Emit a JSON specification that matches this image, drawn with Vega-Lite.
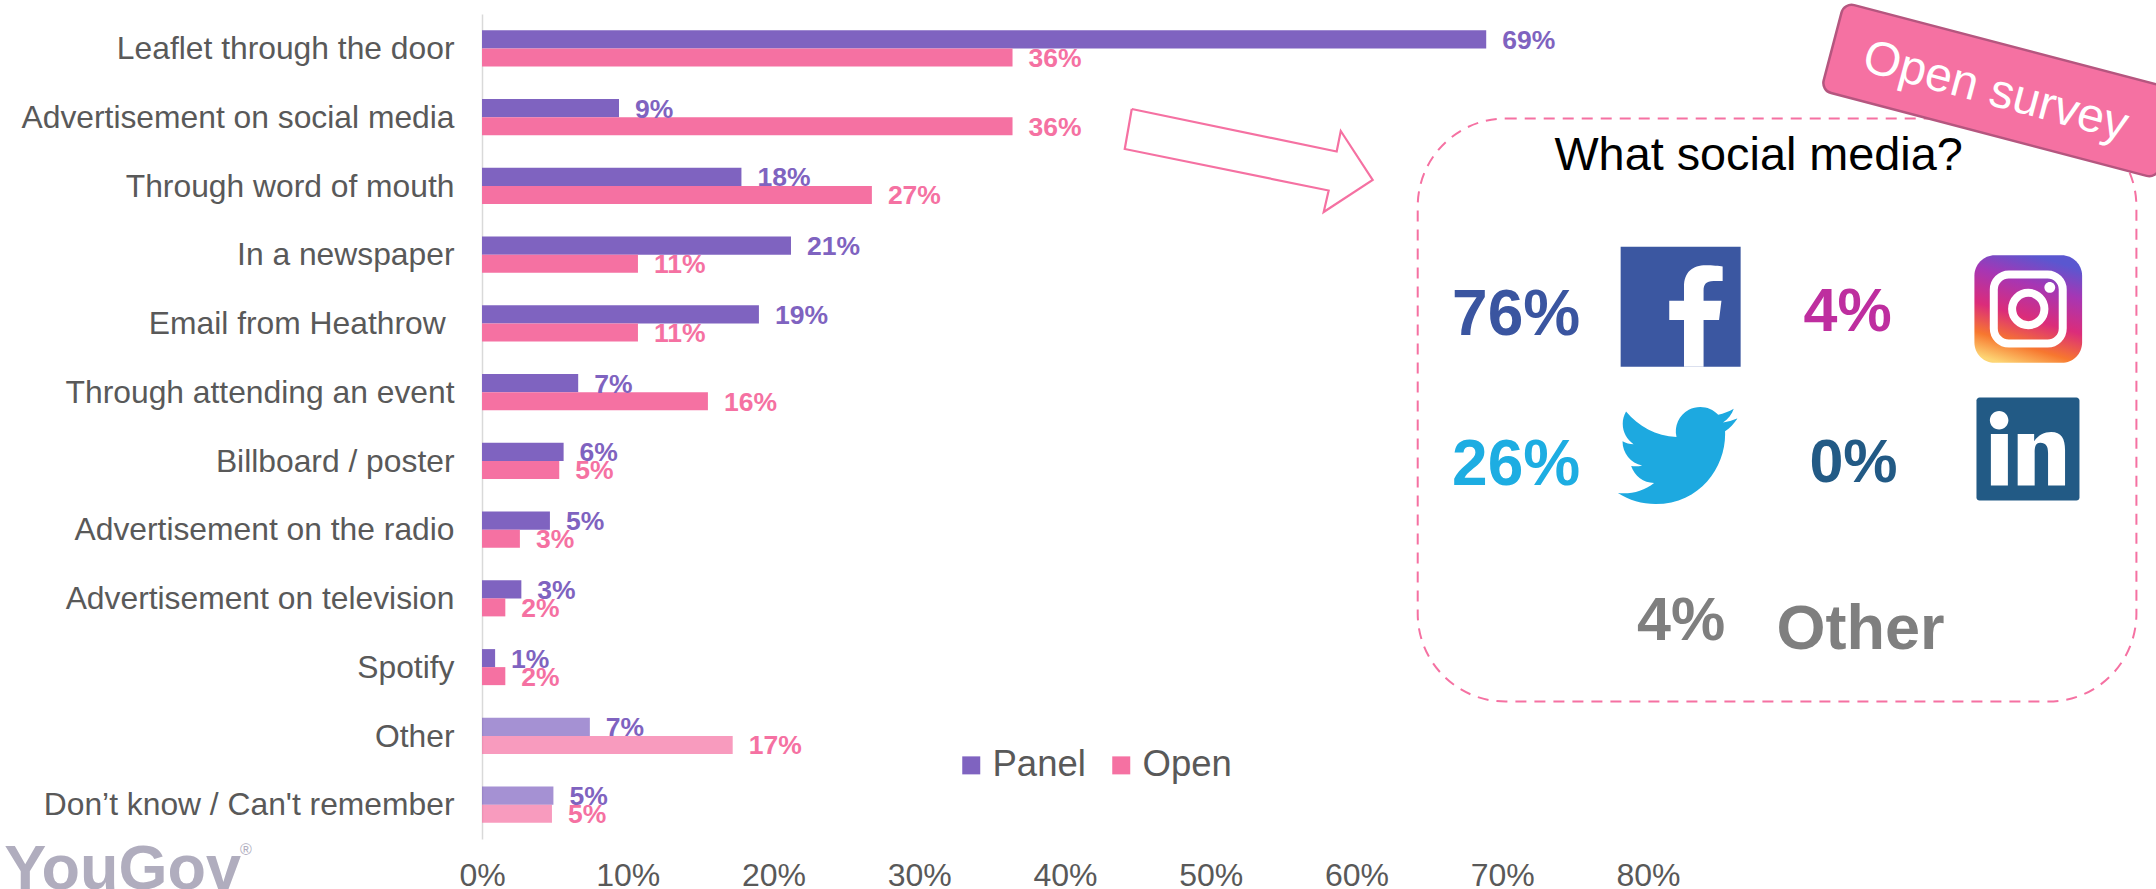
{
"$schema":"https://vega.github.io/schema/vega-lite/v6.json",
"width":1166,"height":825,
"autosize":{"type":"none"},
"padding":{"left":482,"top":14,"right":508,"bottom":50},
"background":"white",
"config":{"view":{"stroke":null},"font":"Liberation Sans"},
"data":{"values":[
{"category":"Leaflet through the door","series":"Panel","share":0.689},
{"category":"Leaflet through the door","series":"Open","share":0.364},
{"category":"Advertisement on social media","series":"Panel","share":0.094},
{"category":"Advertisement on social media","series":"Open","share":0.364},
{"category":"Through word of mouth","series":"Panel","share":0.178},
{"category":"Through word of mouth","series":"Open","share":0.2675},
{"category":"In a newspaper","series":"Panel","share":0.212},
{"category":"In a newspaper","series":"Open","share":0.107},
{"category":"Email from Heathrow \u200b","series":"Panel","share":0.19},
{"category":"Email from Heathrow \u200b","series":"Open","share":0.107},
{"category":"Through attending an event","series":"Panel","share":0.066},
{"category":"Through attending an event","series":"Open","share":0.155},
{"category":"Billboard / poster","series":"Panel","share":0.056},
{"category":"Billboard / poster","series":"Open","share":0.053},
{"category":"Advertisement on the radio","series":"Panel","share":0.0466},
{"category":"Advertisement on the radio","series":"Open","share":0.026},
{"category":"Advertisement on television","series":"Panel","share":0.027},
{"category":"Advertisement on television","series":"Open","share":0.016},
{"category":"Spotify","series":"Panel","share":0.009},
{"category":"Spotify","series":"Open","share":0.016},
{"category":"Other","series":"Panel","share":0.074},
{"category":"Other","series":"Open","share":0.172},
{"category":"Don’t know / Can't remember","series":"Panel","share":0.049},
{"category":"Don’t know / Can't remember","series":"Open","share":0.048}
]},
"encoding":{"x":{"field":"share","type":"quantitative","stack":null,
"scale":{"domain":[0,0.8],"nice":false,"zero":false},
"axis":{"title":null,"values":[0,0.1,0.2,0.3,0.4,0.5,0.6,0.7,0.8],"format":".0%","grid":false,"ticks":false,"domain":false,"labelFont":"Liberation Sans","labelFontSize":32,"labelColor":"#595959","labelPadding":21,"labelFlush":false,"labelOverlap":false}}},
"resolve":{"scale":{"y":"independent"}},
"layer":[
{"encoding":{
"y":{"field":"category","type":"nominal","sort":null,
"scale":{"domain":["Leaflet through the door","Advertisement on social media","Through word of mouth","In a newspaper","Email from Heathrow \u200b","Through attending an event","Billboard / poster","Advertisement on the radio","Advertisement on television","Spotify","Other","Don’t know / Can't remember"],"paddingInner":0.476,"paddingOuter":0.238},
"axis":{"title":null,"ticks":false,"domain":true,"domainColor":"#D9D9D9","domainWidth":1.5,"labelFont":"Liberation Sans","labelFontSize":31.8,"labelColor":"#595959","labelPadding":28,"labelLimit":600,"labelOverlap":false,"labelOffset":0.7}},
"yOffset":{"field":"series","type":"nominal","scale":{"domain":["Panel","Open"]}},
"color":{"field":"series","type":"nominal","scale":{"domain":["Panel","Open"],"range":["#7F63C0","#F571A2"]},
"legend":{"orient":"none","legendX":471,"legendY":733,"direction":"horizontal","columns":2,"title":null,"symbolType":"square","symbolSize":324,"symbolStrokeWidth":0,"symbolOpacity":1,"labelFont":"Liberation Sans","labelFontSize":36.5,"labelColor":"#595959","labelOffset":3,"columnPadding":17,"labelLimit":300}}},
"layer":[
{"mark":{"type":"bar"},"encoding":{"opacity":{"condition":{"test":"datum.category==='Other'||datum.category==='Don’t know / Can\\'t remember'","value":0.7},"value":1}}},
{"mark":{"type":"text","align":"left","baseline":"middle","dx":16,"dy":1.5,"font":"Liberation Sans","fontWeight":"bold","fontSize":26.5},"encoding":{"text":{"field":"share","type":"quantitative","format":".0%"}}}
]},
{"encoding":{"y":{"field":"row","type":"quantitative","scale":{"domain":[12,0],"nice":false,"zero":false},"axis":null}},
"layer":[
{"data":{"values":[{"share":0.642,"shareEnd":1.1351,"row":1.52,"rowEnd":10.0015}]},
"mark":{"type":"rect","filled":false,"stroke":"#F571A2","strokeWidth":2,"strokeDash":[11,8],"cornerRadius":88},
"encoding":{"x2":{"field":"shareEnd"},"y2":{"field":"rowEnd"}}},
{"data":{"values":[
{"vertex":1,"share":0.4458,"row":1.3818},{"vertex":2,"share":0.5864,"row":2.0},{"vertex":3,"share":0.5892,"row":1.7018},{"vertex":4,"share":0.6111,"row":2.4145},{"vertex":5,"share":0.5775,"row":2.88},{"vertex":6,"share":0.5809,"row":2.5673},{"vertex":7,"share":0.441,"row":1.9636},{"vertex":8,"share":0.4458,"row":1.3818}]},
"mark":{"type":"line","color":"#F571A2","strokeWidth":2.2,"strokeJoin":"miter","clip":false},
"encoding":{"order":{"field":"vertex","type":"quantitative"}}},
{"data":{"values":[{"share":1.0418,"row":1.1127}]},
"mark":{"type":"point","shape":"M-.94 -.262H.94A.06 .06 0 0 1 1 -.202V.202A.06 .06 0 0 1 .94 .262H-.94A.06 .06 0 0 1 -1 .202V-.202A.06 .06 0 0 1 -.94 -.262Z","size":120409,"angle":14.7,"filled":true,"fill":"#F571A2","stroke":"#B5567F","strokeWidth":2.5,"opacity":1}},
{"data":{"values":[{"share":1.0384,"row":1.1345,"label":"Open survey"}]},
"mark":{"type":"text","align":"center","baseline":"middle","angle":15,"font":"Liberation Sans","fontSize":48,"color":"white"},"encoding":{"text":{"field":"label"}}},
{"data":{"values":[{"share":0.8759,"row":2.0673,"label":"What social media?"}]},
"mark":{"type":"text","align":"center","baseline":"middle","font":"Liberation Sans","fontSize":46.8,"color":"black"},"encoding":{"text":{"field":"label"}}},
{"data":{"values":[{"share":0.7095,"row":4.3855,"label":"76%"}]},"mark":{"type":"text","align":"center","baseline":"middle","font":"Liberation Sans","fontWeight":"bold","fontSize":64,"color":"#3A55A0"},"encoding":{"text":{"field":"label"}}},
{"data":{"values":[{"share":0.7095,"row":6.5818,"label":"26%"}]},"mark":{"type":"text","align":"center","baseline":"middle","font":"Liberation Sans","fontWeight":"bold","fontSize":64,"color":"#1DADE2"},"encoding":{"text":{"field":"label"}}},
{"data":{"values":[{"share":0.9369,"row":4.3473,"label":"4%"}]},"mark":{"type":"text","align":"center","baseline":"middle","font":"Liberation Sans","fontWeight":"bold","fontSize":61,"color":"#BE2E9F"},"encoding":{"text":{"field":"label"}}},
{"data":{"values":[{"share":0.941,"row":6.5436,"label":"0%"}]},"mark":{"type":"text","align":"center","baseline":"middle","font":"Liberation Sans","fontWeight":"bold","fontSize":61,"color":"#225A85"},"encoding":{"text":{"field":"label"}}},
{"data":{"values":[{"share":0.8227,"row":8.8382,"label":"4%"}]},"mark":{"type":"text","align":"center","baseline":"middle","font":"Liberation Sans","fontWeight":"bold","fontSize":61,"color":"#7F7F7F"},"encoding":{"text":{"field":"label"}}},
{"data":{"values":[{"share":0.9458,"row":8.9564,"label":"Other"}]},"mark":{"type":"text","align":"center","baseline":"middle","font":"Liberation Sans","fontWeight":"bold","fontSize":63,"color":"#7F7F7F"},"encoding":{"text":{"field":"label"}}},
{"data":{"values":[{"share":0.8224,"row":4.2582}]},"mark":{"type":"point","shape":"M-1 -1H1V1H-1Z","size":14400,"filled":true,"fill":"#3B57A1","strokeWidth":0,"opacity":1}},
{"data":{"values":[{"share":0.8224,"row":4.2582}]},"mark":{"type":"point","shape":"M.056 1V.22H-.19V-.1H.056V-.33C.056 -.58 .2 -.69 .42 -.69C.52 -.69 .65 -.68 .7 -.67V-.43H.55C.42 -.43 .382 -.37 .382 -.27V-.1H.68L.64 .22H.382V1Z","size":14400,"filled":true,"fill":"white","strokeWidth":0,"opacity":1}},
{"data":{"values":[{"share":1.0609,"row":4.2909}]},"mark":{"type":"point","shape":"M-.62 -1H.62A.38 .38 0 0 1 1 -.62V.62A.38 .38 0 0 1 .62 1H-.62A.38 .38 0 0 1 -1 .62V-.62A.38 .38 0 0 1 -.62 -1Z","size":11600,"filled":true,"strokeWidth":0,"opacity":1,
"fill":{"gradient":"linear","x1":0.25,"y1":1,"x2":0.55,"y2":0,"stops":[{"offset":0,"color":"#FDD574"},{"offset":0.2,"color":"#F7772F"},{"offset":0.45,"color":"#DB2C7A"},{"offset":0.75,"color":"#A636B4"},{"offset":1,"color":"#5A57D0"}]}}},
{"data":{"values":[{"share":1.0609,"row":4.2909}]},"mark":{"type":"point","shape":"M-.36 -.64H.36A.28 .28 0 0 1 .64 -.36V.36A.28 .28 0 0 1 .36 .64H-.36A.28 .28 0 0 1 -.64 .36V-.36A.28 .28 0 0 1 -.36 -.64Z M.3 0A.3 .3 0 1 1 -.3 0A.3 .3 0 1 1 .3 0Z","size":11600,"filled":false,"stroke":"white","strokeWidth":8,"opacity":1}},
{"data":{"values":[{"share":1.0609,"row":4.2909}]},"mark":{"type":"point","shape":"M.5 -.4A.1 .1 0 1 1 .3 -.4A.1 .1 0 1 1 .5 -.4Z","size":11600,"filled":true,"fill":"white","strokeWidth":0,"opacity":1}},
{"data":{"values":[{"share":0.8203,"row":6.4218}]},"mark":{"type":"point","shape":"M11.953 -7.43a10 10 0 0 1 -2.825 .775a4.958 4.958 0 0 0 2.163 -2.723c-.951 .555 -2.005 .959 -3.127 1.184a4.92 4.92 0 0 0 -8.384 4.482C-4.31 -3.905 -7.933 -5.87 -10.36 -8.838a4.822 4.822 0 0 0 -.666 2.475c0 1.71 .87 3.213 2.188 4.096a4.904 4.904 0 0 1 -2.228 -.616v.06a4.923 4.923 0 0 0 3.946 4.827a4.996 4.996 0 0 1 -2.212 .085a4.936 4.936 0 0 0 4.604 3.417a9.867 9.867 0 0 1 -6.102 2.105c-.39 0 -.779 -.023 -1.17 -.067a13.995 13.995 0 0 0 7.557 2.209c9.053 0 13.998 -7.496 13.998 -13.985c0 -.21 0 -.42 -.015 -.63A9.935 9.935 0 0 0 12 -7.41Z","size":99,"filled":true,"fill":"#1DA9E0","strokeWidth":0,"opacity":1}},
{"data":{"values":[{"share":1.0607,"row":6.3273}]},"mark":{"type":"point","shape":"M-.94 -1H.94A.06 .06 0 0 1 1 -.94V.94A.06 .06 0 0 1 .94 1H-.94A.06 .06 0 0 1 -1 .94V-.94A.06 .06 0 0 1 -.94 -1Z","size":10609,"filled":true,"fill":"#225A85","strokeWidth":0,"opacity":1}},
{"data":{"values":[{"share":1.0607,"row":6.3273}]},"mark":{"type":"point","shape":"M-.72 -.29H-.39V.71H-.72Z M-.38 -.56A.18 .18 0 1 1 -.74 -.56A.18 .18 0 1 1 -.38 -.56Z M-.2 -.29H.12V-.15C.2 -.27 .32 -.33 .45 -.33C.65 -.33 .72 -.2 .72 .02V.71H.39V.08C.39 -.05 .35 -.12 .24 -.12C.14 -.12 .13 -.03 .13 .08V.71H-.2Z","size":10609,"filled":true,"fill":"white","strokeWidth":0,"opacity":1}},
{"data":{"values":[{"share":-0.3278,"row":12.72,"label":"YouGov"}]},"mark":{"type":"text","align":"left","baseline":"alphabetic","font":"Liberation Sans","fontWeight":"bold","fontSize":63,"color":"#B0ADBE"},"encoding":{"text":{"field":"label"}}},
{"data":{"values":[{"share":-0.166,"row":12.16,"label":"®"}]},"mark":{"type":"text","align":"left","baseline":"middle","font":"Liberation Sans","fontSize":16,"color":"#B0ADBE"},"encoding":{"text":{"field":"label"}}}
]}
]
}
